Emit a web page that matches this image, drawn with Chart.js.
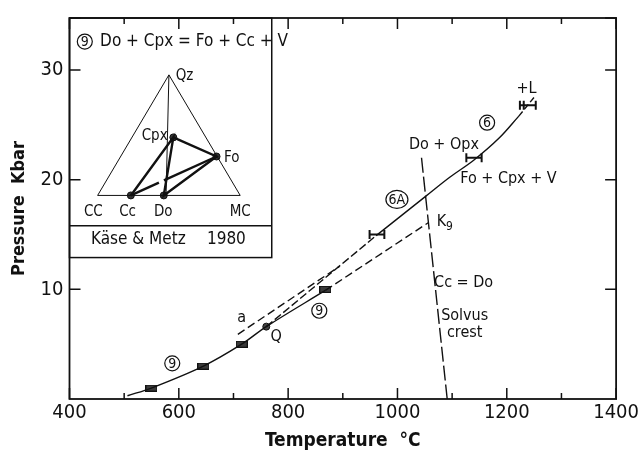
<!DOCTYPE html>
<html>
<head>
<meta charset="utf-8">
<script src="https://cdn.jsdelivr.net/npm/chart.js@4.4.1/dist/chart.umd.min.js"></script>
<style>
  body { margin: 0; background: #fff; }
  #wrap { width: 641px; height: 454px; }
</style>
</head>
<body>
<div id="wrap"><canvas id="chart"></canvas></div>
<script>
// [temperature C, pressure kbar]
const curve9 = [[506, 0.3], [550, 1], [645, 3], [715, 5], [760, 6.6], [868, 9.9]];
const curve6 = [[961, 14.9], [1052, 18.5], [1095, 20.2], [1140, 21.8], [1186, 23.8], [1222, 25.8]];
const curve6Metastable = [[760, 6.6], [961, 14.9]];
const curveMelt = [[1222, 25.8], [1253, 27.7]];
const lineA = [[708, 5.9], [894, 12.1]];
const lineK9 = [[868, 9.9], [1057, 16.1]];
const solvusCrest = [[1044, 22], [1091, 0]];
const brackets = [[550, 1], [645, 3], [715, 5], [868, 10]];
const pointQ = [[760, 6.6]];
const errorBars = [
  [[949, 15], [976, 15]],
  [[1126, 22], [1154, 22]],
  [[1224, 26.8], [1231, 26.8], [1253, 26.8]]
];

// inset ternary CC - MC - Qz (x along CC-MC, y height)
const triangle = [[0, 0], [1, 0], [0.5, 0.87], [0, 0]];
const qzDrop = [[0.5, 0.87], [0.48, 0]];
const phaseCc = [0.233, 0];
const phaseDo = [0.464, 0];
const phaseCpx = [0.531, 0.419];
const phaseFo = [0.834, 0.281];

const xTickLabels = [400, 600, 800, 1000, 1200, 1400];
const yTickLabels = [10, 20, 30];

const FONT = '"DejaVu Sans Condensed", "DejaVu Sans", sans-serif';
const pts = arr => arr.map(([x, y]) => ({ x, y }));

function line(data, opts) {
  return Object.assign({
    type: 'scatter', data: pts(data), showLine: true, borderColor: '#111',
    borderWidth: 1.4, pointRadius: 0, pointHoverRadius: 0, fill: false
  }, opts);
}

// small dark rectangle used for the experimental brackets
const rectImg = document.createElement('canvas');
rectImg.width = 12; rectImg.height = 7;
(function () {
  const c = rectImg.getContext('2d');
  c.fillStyle = '#3a3a3a';
  c.fillRect(0, 0, 12, 7);
  c.strokeStyle = '#111';
  c.lineWidth = 1;
  c.strokeRect(0.5, 0.5, 11, 6);
})();

const datasets = [
  line(curve9, { tension: 0.35 }),
  line(curve6, { tension: 0.35 }),
  line(curve6Metastable, { borderDash: [8, 3] }),
  line(curveMelt, { borderDash: [6, 3] }),
  line(lineA, { borderDash: [8, 4] }),
  line(lineK9, { borderDash: [8, 4] }),
  line(solvusCrest, { borderDash: [15, 4] }),
  {
    type: 'scatter', data: pts(brackets), pointStyle: rectImg, pointRadius: 6
  },
  {
    type: 'scatter', data: pts(pointQ), pointStyle: 'circle', pointRadius: 3.5,
    backgroundColor: '#444', borderColor: '#111', borderWidth: 1
  },
  ...errorBars.map(b => line(b, {
    borderWidth: 2, pointStyle: 'line', rotation: 90, pointRadius: 4.5,
    pointBorderWidth: 2, pointBorderColor: '#111'
  })),
  // inset
  line(triangle, { xAxisID: 'tx', yAxisID: 'ty', borderWidth: 1 }),
  line(qzDrop, { xAxisID: 'tx', yAxisID: 'ty', borderWidth: 1 }),
  line([phaseCc, phaseCpx, phaseDo, phaseFo, phaseCpx], { xAxisID: 'tx', yAxisID: 'ty', borderWidth: 2.4 }),
  line([phaseCc, [0.43, 0.092]], { xAxisID: 'tx', yAxisID: 'ty', borderWidth: 2.4 }),
  line([[0.465, 0.1085], phaseFo], { xAxisID: 'tx', yAxisID: 'ty', borderWidth: 2.4 }),
  {
    type: 'scatter', data: pts([phaseCc, phaseDo, phaseCpx, phaseFo]), xAxisID: 'tx', yAxisID: 'ty',
    pointRadius: 3.5, backgroundColor: '#333', borderColor: '#111', borderWidth: 1
  }
];

// text labels in data units
const labels = [
  ['Do + Opx', 1085, 23.2],
  ['Fo + Cpx + V', 1203, 20.1],
  ['+L', 1236, 28.3],
  ['Cc = Do', 1121, 10.6],
  ['Solvus', 1123, 7.6],
  ['crest', 1123, 6.0],
  ['a', 715, 7.4],
  ['Q', 778, 5.65]
];
const circled = [['6', 1164, 25.2], ['6A', 999, 18.2], ['9', 857, 8.05], ['9', 588, 3.25], ['9', 428, 32.6]];
const insetLabels = [
  ['Qz', 0.61, 0.86], ['Cpx', 0.40, 0.43], ['Fo', 0.94, 0.27],
  ['CC', -0.03, -0.12], ['Cc', 0.21, -0.12], ['Do', 0.46, -0.12], ['MC', 1.0, -0.12]
];

const decor = {
  id: 'decor',
  beforeDatasetsDraw(chart) {
    const { ctx, scales: { x, y } } = chart;
    const l = x.getPixelForValue(400), r = x.getPixelForValue(770);
    const t = y.getPixelForValue(y.max), b = y.getPixelForValue(12.9);
    const mid = y.getPixelForValue(15.8);
    ctx.save();
    ctx.fillStyle = '#fff';
    ctx.fillRect(l, t, r - l, b - t);
    ctx.strokeStyle = '#111';
    ctx.lineWidth = 1.5;
    ctx.strokeRect(l, t, r - l, b - t);
    ctx.beginPath();
    ctx.moveTo(l, mid); ctx.lineTo(r, mid);
    ctx.stroke();
    ctx.restore();
  },
  afterDatasetsDraw(chart) {
    const { ctx, chartArea: a, scales: { x, y, tx, ty } } = chart;
    ctx.save();
    ctx.strokeStyle = '#111';
    ctx.lineWidth = 1.8;
    ctx.strokeRect(a.left, a.top, a.right - a.left, a.bottom - a.top);
    ctx.lineWidth = 1.5;
    ctx.beginPath();
    x.ticks.forEach(tk => {
      const px = x.getPixelForValue(tk.value);
      const len = tk.value % 200 === 0 ? 11 : 6;
      ctx.moveTo(px, a.bottom); ctx.lineTo(px, a.bottom - len);
      ctx.moveTo(px, a.top); ctx.lineTo(px, a.top + len);
    });
    y.ticks.forEach(tk => {
      if (tk.value === 0) return;
      const py = y.getPixelForValue(tk.value);
      ctx.moveTo(a.left, py); ctx.lineTo(a.left + 11, py);
      ctx.moveTo(a.right, py); ctx.lineTo(a.right - 11, py);
    });
    ctx.stroke();

    ctx.fillStyle = '#111';
    ctx.textAlign = 'center';
    ctx.textBaseline = 'middle';
    ctx.font = '16px ' + FONT;
    labels.forEach(([s, vx, vy]) => ctx.fillText(s, x.getPixelForValue(vx), y.getPixelForValue(vy)));

    // K9 with subscript
    const kx = x.getPixelForValue(1072), ky = y.getPixelForValue(16.2);
    ctx.textAlign = 'left';
    ctx.fillText('K', kx, ky);
    ctx.font = '12px ' + FONT;
    ctx.fillText('9', kx + ctx.measureText('K').width + 2, ky + 5);

    // circled reaction numbers
    ctx.lineWidth = 1.2;
    circled.forEach(([s, vx, vy]) => {
      const cx = x.getPixelForValue(vx), cy = y.getPixelForValue(vy);
      ctx.font = '14px ' + FONT;
      ctx.textAlign = 'center';
      ctx.beginPath();
      if (s.length > 1) ctx.ellipse(cx, cy, 11, 9, 0, 0, Math.PI * 2);
      else ctx.arc(cx, cy, 7.5, 0, Math.PI * 2);
      ctx.stroke();
      ctx.fillText(s, cx, cy + 0.5);
    });

    // inset texts
    ctx.font = '17px ' + FONT;
    ctx.textAlign = 'left';
    ctx.fillText('Do + Cpx = Fo + Cc + V', x.getPixelForValue(456), y.getPixelForValue(32.6));
    ctx.textAlign = 'center';
    ctx.fillText('Käse & Metz', x.getPixelForValue(526), y.getPixelForValue(14.55));
    ctx.fillText('1980', x.getPixelForValue(687), y.getPixelForValue(14.55));
    ctx.font = '15px ' + FONT;
    insetLabels.forEach(([s, vx, vy]) => ctx.fillText(s, tx.getPixelForValue(vx), ty.getPixelForValue(vy)));
    ctx.restore();
  }
};

new Chart(document.getElementById('chart'), {
  data: { datasets },
  options: {
    responsive: true,
    maintainAspectRatio: false,
    animation: false,
    events: [],
    layout: { padding: { left: 0, right: 23, top: 14, bottom: 0 } },
    plugins: { legend: { display: false }, tooltip: { enabled: false } },
    scales: {
      x: {
        type: 'linear', min: 400, max: 1400,
        ticks: {
          stepSize: 100, padding: 2, color: '#111',
          font: { family: FONT, size: 20 },
          callback: v => xTickLabels.includes(v) ? String(v) : ''
        },
        grid: { display: false, drawTicks: false },
        border: { display: false },
        title: {
          display: true, text: 'Temperature  °C', color: '#111',
          font: { family: FONT, size: 19, weight: 'bold' }, padding: { top: 0, bottom: 2 }
        },
        afterFit: s => { s.height = 55; }
      },
      y: {
        type: 'linear', min: 0, max: 34.75,
        ticks: {
          stepSize: 10, padding: 6, color: '#111',
          font: { family: FONT, size: 20 },
          callback: v => yTickLabels.includes(v) ? String(v) : ''
        },
        grid: { display: false, drawTicks: false },
        border: { display: false },
        title: {
          display: true, text: 'Pressure  Kbar', color: '#111',
          font: { family: FONT, size: 18, weight: 'bold' }, padding: { top: 9, bottom: 0 }
        },
        afterFit: s => { s.width = 69.5; }
      },
      tx: { type: 'linear', display: false, min: -0.1972, max: 3.6364 },
      ty: { type: 'linear', display: false, min: -1.4693, max: 1.2807 }
    }
  },
  plugins: [decor]
});
</script>
</body>
</html>
